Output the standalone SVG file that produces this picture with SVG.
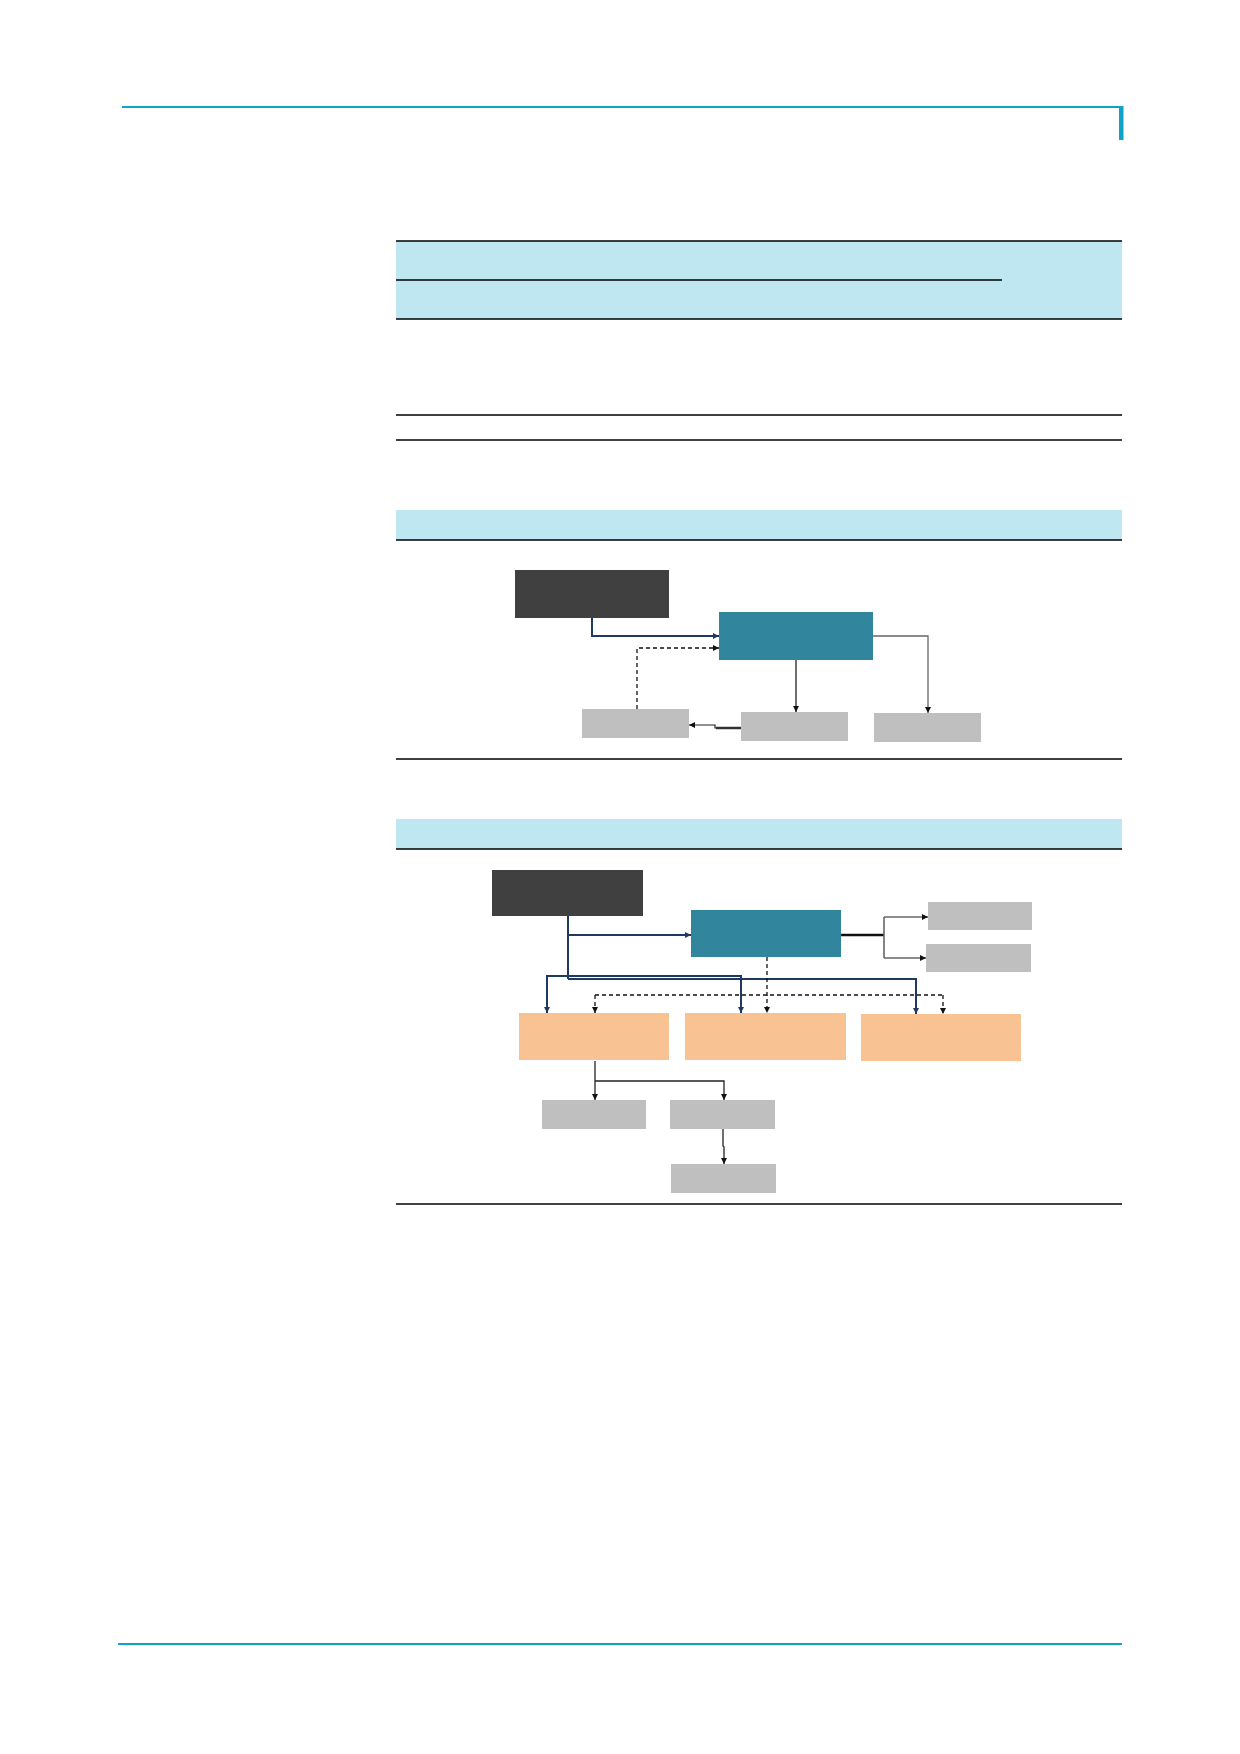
<svg xmlns="http://www.w3.org/2000/svg" width="1240" height="1754" viewBox="0 0 1240 1754">
<style>
.band{fill:#BFE7F1}
.rule{stroke:#000;stroke-width:1.5;fill:none}
.page{stroke:#0FA3C8;stroke-width:2;fill:none}
.dark{fill:#404040}
.teal{fill:#31859C}
.gray{fill:#BFBFBF}
.orange{fill:#F9C292}
.navy{stroke:#1F3A60;stroke-width:2;fill:none}
.blk{stroke:#222;stroke-width:1.3;fill:none}
.gry{stroke:#666;stroke-width:1.3;fill:none}
.dash{stroke:#111;stroke-width:1.3;fill:none;stroke-dasharray:4 3}
</style>
<defs>
<marker id="ab" viewBox="0 0 10 10" refX="10" refY="5" markerWidth="6" markerHeight="6" markerUnits="userSpaceOnUse" orient="auto"><path d="M0,0L10,5L0,10z" fill="#111"/></marker>
<marker id="an" viewBox="0 0 10 10" refX="10" refY="5" markerWidth="6" markerHeight="6" markerUnits="userSpaceOnUse" orient="auto"><path d="M0,0L10,5L0,10z" fill="#1F3A60"/></marker>
</defs>
<rect width="1240" height="1754" fill="#fff"/>
<g id="page-frame">
<line class="page" x1="122" y1="107" x2="1123" y2="107"/>
<rect x="1119" y="106" width="4.5" height="34" fill="#0FA3C8"/>
<line class="page" x1="118" y1="1644" x2="1122" y2="1644"/>
</g>
<g id="table">
<rect class="band" x="396" y="241" width="726" height="78"/>
<line class="rule" x1="396" y1="241" x2="1122" y2="241"/>
<line class="rule" x1="396" y1="280" x2="1002" y2="280"/>
<line class="rule" x1="396" y1="319" x2="1122" y2="319"/>
<line class="rule" x1="396" y1="415" x2="1122" y2="415"/>
<line class="rule" x1="396" y1="440" x2="1122" y2="440"/>
</g>
<g id="section1-frame">
<rect class="band" x="396" y="510" width="726" height="30"/>
<line class="rule" x1="396" y1="540" x2="1122" y2="540"/>
<line class="rule" x1="396" y1="759" x2="1122" y2="759"/>
</g>
<g id="s1-dark"><rect class="dark" x="515" y="570" width="154" height="48"/></g>
<g id="s1-teal"><rect class="teal" x="719" y="612" width="154" height="48"/></g>
<g id="s1-gray-left"><rect class="gray" x="582" y="709" width="107" height="29"/></g>
<g id="s1-gray-mid"><rect class="gray" x="741" y="712" width="107" height="29"/></g>
<g id="s1-gray-right"><rect class="gray" x="874" y="713" width="107" height="29"/></g>
<g id="s1-connectors">
<path class="navy" d="M592,618V636H719" marker-end="url(#an)"/>
<path class="dash" d="M637,709V648H719" marker-end="url(#ab)"/>
<path class="blk" d="M796,660V712" marker-end="url(#ab)"/>
<path class="gry" d="M873,636H928V713" marker-end="url(#ab)"/>
<path class="blk" d="M741,728H715V725H689" marker-end="url(#ab)" style="stroke-width:1.2"/>
<path d="M741,728H716" stroke="#333" stroke-width="2.5" fill="none"/>
</g>
<g id="section2-frame">
<rect class="band" x="396" y="819" width="726" height="30"/>
<line class="rule" x1="396" y1="849" x2="1122" y2="849"/>
<line class="rule" x1="396" y1="1204" x2="1122" y2="1204"/>
</g>
<g id="s2-dark"><rect class="dark" x="492" y="870" width="151" height="46"/></g>
<g id="s2-teal"><rect class="teal" x="691" y="910" width="150" height="47"/></g>
<g id="s2-gray-tr1"><rect class="gray" x="928" y="902" width="104" height="28"/></g>
<g id="s2-gray-tr2"><rect class="gray" x="926" y="944" width="105" height="28"/></g>
<g id="s2-orange1"><rect class="orange" x="519" y="1013" width="150" height="47"/></g>
<g id="s2-orange2"><rect class="orange" x="685" y="1013" width="161" height="47"/></g>
<g id="s2-orange3"><rect class="orange" x="861" y="1014" width="160" height="47"/></g>
<g id="s2-gray-b1"><rect class="gray" x="542" y="1100" width="104" height="29"/></g>
<g id="s2-gray-b2"><rect class="gray" x="670" y="1100" width="105" height="29"/></g>
<g id="s2-gray-b3"><rect class="gray" x="671" y="1164" width="105" height="29"/></g>
<g id="s2-connectors">
<path class="navy" d="M568,916V979"/>
<path class="navy" d="M568,935H691" marker-end="url(#an)"/>
<path class="navy" d="M568,976H547V1013" marker-end="url(#an)"/>
<path class="navy" d="M568,976H741V1013" marker-end="url(#an)"/>
<path class="navy" d="M568,979H916V1014" marker-end="url(#an)"/>
<path class="dash" d="M767,957V1013" marker-end="url(#ab)"/>
<path class="dash" d="M595,995H943"/>
<path class="dash" d="M595,995V1013" marker-end="url(#ab)"/>
<path class="dash" d="M943,995V1014" marker-end="url(#ab)"/>
<path d="M841,935H884" stroke="#111" stroke-width="2.5" fill="none"/>
<path class="gry" d="M884,917V958" style="stroke-width:1.6"/>
<path class="gry" d="M884,917H928" marker-end="url(#ab)" style="stroke-width:1.6"/>
<path class="gry" d="M884,958H926" marker-end="url(#ab)" style="stroke-width:1.6"/>
<path class="blk" d="M595,1061V1100" marker-end="url(#ab)"/>
<path class="blk" d="M595,1081H724V1100" marker-end="url(#ab)"/>
<path class="blk" d="M723,1129V1146L724,1147V1164" marker-end="url(#ab)"/>
</g>
</svg>
